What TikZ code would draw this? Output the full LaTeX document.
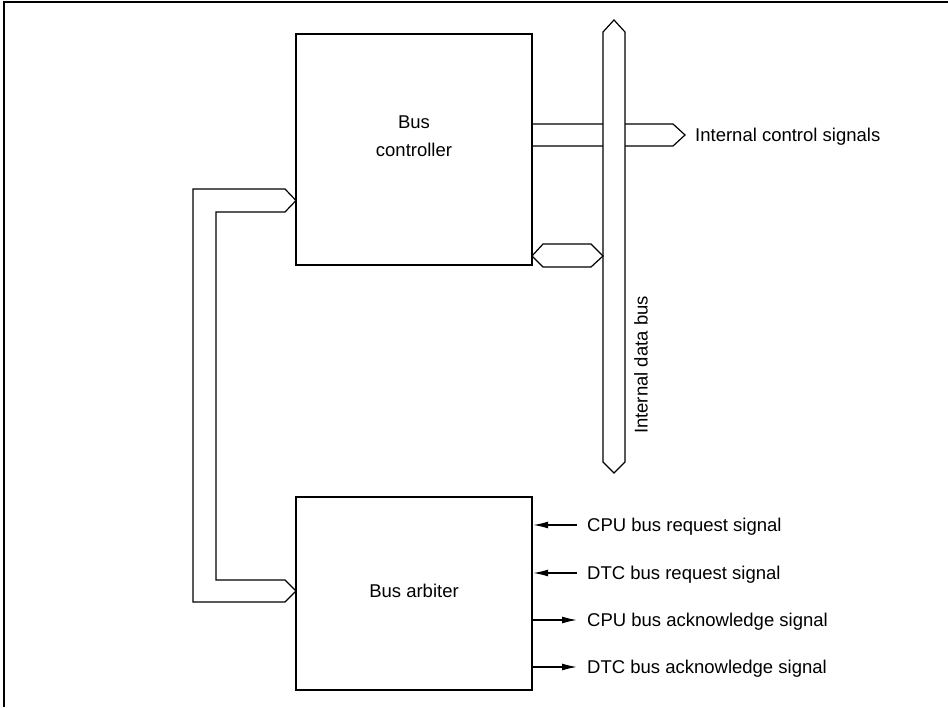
\documentclass[tikz,border=0pt]{standalone}
\usepackage{fontspec}
\setmainfont{Liberation Sans}
\usetikzlibrary{arrows.meta}
\begin{document}
\begin{tikzpicture}[x=1pt,y=-1pt,
  txt/.style={font=\fontsize{18.5}{28}\selectfont, inner sep=0pt},
  block/.style={draw, line width=2.4pt, minimum width=236pt, inner sep=0pt},
  busline/.style={line width=1.2pt, line join=miter, fill=white},
  sig/.style={line width=1.3pt, -{Latex[length=15pt,width=7pt]}},
  lbl/.style={txt, anchor=base west}]
\useasboundingbox (0,0) rectangle (948,707);

% frame edges
\draw[line width=2.5pt] (3.8,707) -- (3.8,2.2) -- (948,2.2);

% functional blocks
\node[block, minimum height=231pt] (ctrl) at (414,149.5) {};
\node[txt, align=center] (ctrlname) at (414,136.4) {Bus\\controller};
\node[block, minimum height=193pt] (arb) at (414,593.5) {};
\node[txt] (arbname) at (414,591) {Bus arbiter};

% internal control signals (leaves the controller, passes under the data bus)
\coordinate (cstip) at (685,135);
\draw[busline] (ctrl.east |- 0,124) -- (673,124) -- (cstip) -- (673,146) -- (ctrl.east |- 0,146);
\node[lbl] (cslabel) at (695,141.7) {Internal control signals};

% internal data bus
\coordinate (dbtop) at (614,20);
\coordinate (dbbot) at (614,473);
\draw[busline] (dbtop) -- (625,32) -- (625,462) -- (dbbot) -- (603,462) -- (603,32) -- cycle;
\node[txt, rotate=90] (dblabel) at (641,365) {Internal data bus};

% controller <-> data bus link
\coordinate (lnkl) at (532,256);
\coordinate (lnkr) at (603,256);
\draw[busline] (lnkl) -- (543,244) -- (591,244) -- (lnkr) -- (591,267) -- (543,267) -- cycle;

% controller <-> arbiter link
\coordinate (upt) at (296,200.5);
\coordinate (lot) at (296,591);
\draw[busline, fill=none] (upt) -- (285,189) -- (193,189) -- (193,602) -- (285,602) -- (lot)
  -- (285,580) -- (216,580) -- (216,212) -- (285,212) -- cycle;

% arbiter request / acknowledge signals
\node[lbl] (cpureq) at (587,531.7) {CPU bus request signal};
\node[lbl] (dtcreq) at (587,579.7) {DTC bus request signal};
\node[lbl] (cpuack) at (587,626.7) {CPU bus acknowledge signal};
\node[lbl] (dtcack) at (587,673.7) {DTC bus acknowledge signal};
\coordinate (s1) at (577,525);
\coordinate (s2) at (577,573);
\coordinate (s3) at (577,620);
\coordinate (s4) at (577,667);
\draw[sig] (s1) -- (s1 -| arb.east);
\draw[sig] (s2) -- (s2 -| arb.east);
\draw[sig] (s3 -| arb.east) -- (s3);
\draw[sig] (s4 -| arb.east) -- (s4);
\end{tikzpicture}
\end{document}
